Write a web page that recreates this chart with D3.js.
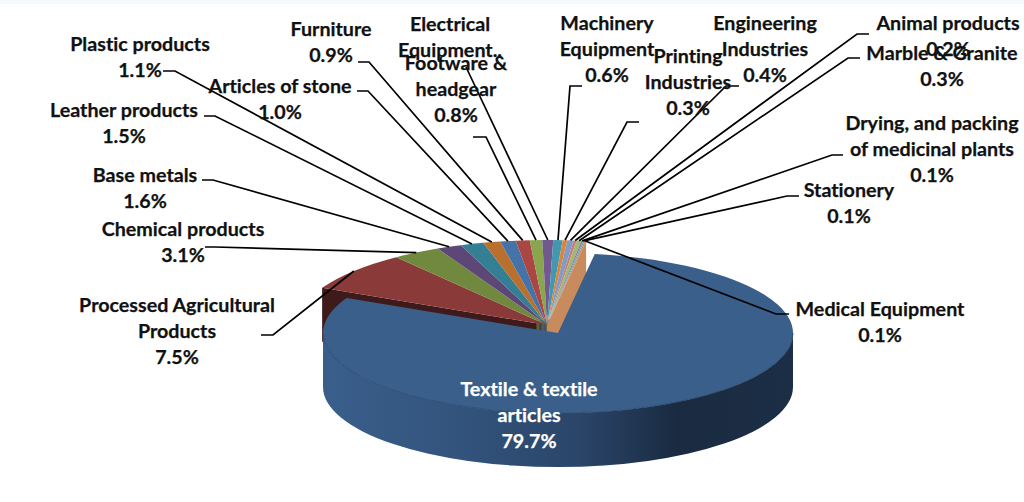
<!DOCTYPE html>
<html>
<head>
<meta charset="utf-8">
<script src="https://cdn.jsdelivr.net/npm/d3@7/dist/d3.min.js"></script>
<style>
  html, body { margin: 0; padding: 0; background: #fff; }
  text { font-family: Lato, "Open Sans", sans-serif; font-weight: 700; font-size: 19.7px; fill: #111; stroke: #111; stroke-width: 0.25px; font-variant-ligatures: none; }
</style>
</head>
<body>
<svg id="chart" width="1024" height="502"></svg>
<script>
// values, clockwise from the big slice
const categories = [
  ['Textile & textile', 'articles'],
  ['Processed Agricultural', 'Products'],
  ['Chemical products'],
  ['Base metals'],
  ['Leather products'],
  ['Plastic products'],
  ['Articles of stone'],
  ['Furniture'],
  ['Footware &', 'headgear'],
  ['Electrical', 'Equipment..'],
  ['Machinery', 'Equipment'],
  ['Printing', 'Industries'],
  ['Engineering', 'Industries'],
  ['Animal products'],
  ['Marble & Granite'],
  ['Drying, and packing', 'of medicinal plants'],
  ['Stationery'],
  ['Medical Equipment']
];
const shares = [79.7, 7.5, 3.1, 1.6, 1.5, 1.1, 1.0, 0.9, 0.8, 0.7, 0.6, 0.3, 0.4, 0.2, 0.3, 0.1, 0.1, 0.1];
const colors = ['#3a5f8b', '#8b3a3a', '#71893f', '#5c4776', '#357f95', '#b96f2e',
  '#4573a7', '#aa4643', '#89a54e', '#71588f', '#4198af', '#db843d',
  '#7d9cc7', '#c97e7c', '#a1b96f', '#8a75a8', '#5faac0', '#c78b5e'];

// label placement: centre x, first line y, then the elbow of the leader line
const labelX = [529, 177, 183, 145, 124, 140, 280, 331, 456, 450, 607, 688, 765, 948, 942, 932, 849, 880];
const labelY = [396, 312, 236, 182, 117, 51, 93, 36, 70, 31, 30, 63, 30, 30, 60, 130, 197, 316];
const leaders = [
  null,
  [[261, 335], [273, 335]],
  [[205, 247], [215, 247]],
  [[202, 180], [213, 180]],
  [[204, 116], [215, 116]],
  [[163, 71], [175, 71]],
  [[357, 91], [368, 91]],
  [[358, 62], [369, 62]],
  [[473, 137], [486, 137]],
  [[466, 67]],
  [[582, 86], [570, 86]],
  [[639, 122], [627, 122]],
  [[739, 86], [726, 86]],
  [[869, 34], [857, 34]],
  [[860, 58], [848, 58]],
  [[843, 155], [832, 155]],
  [[799, 196], [787, 196]],
  [[789, 314], [776, 314]]
];
const hideValue = [9];
const lineGap = 26;

const svg = d3.select('#chart');
const rad = d => d * Math.PI / 180;
const big = { cx: 558, cy: 333, rx: 235, ry: 80 };
const rest = { cx: 547, cy: 325, rx: 250, ry: 85 };
const depth = 54;
const R = 100;

const slices = d3.pie().sort(null).value(d => d)
  .startAngle(rad(9)).endAngle(rad(369))(shares);
const arc = d3.arc().innerRadius(0).outerRadius(R);
const onRim = (e, a) => [e.cx + e.rx * Math.sin(a), e.cy - e.ry * Math.cos(a)];
const squash = e => `translate(${e.cx},${e.cy}) scale(${e.rx / R},${e.ry / R})`;

const defs = svg.append('defs');
const grad = defs.append('linearGradient').attr('id', 'bigSide')
  .attr('gradientUnits', 'userSpaceOnUse')
  .attr('x1', big.cx - big.rx).attr('x2', big.cx + big.rx).attr('y1', 0).attr('y2', 0);
[[0, '#3a5f8b'], [0.3, '#32537c'], [0.55, '#2a4568'], [0.75, '#1a2b41'], [1, '#1c2e45']].forEach(s =>
  grad.append('stop').attr('offset', s[0]).attr('stop-color', s[1]));

svg.append('rect').attr('width', 1024).attr('height', 4).attr('fill', '#f5f9fc');

// side walls of the slices, seen through the gap
const gapWall = (a, fill, reach) => {
  const rim = onRim({ ...rest, rx: rest.rx * reach, ry: rest.ry * reach }, a);
  svg.append('path')
    .attr('d', d3.line()([[rest.cx, rest.cy], rim, [rim[0], rim[1] + depth], [rest.cx, rest.cy + depth]]))
    .attr('fill', fill);
};
gapWall(slices[0].endAngle, '#3f1a1a', 1);
// small stubs near the centre, one per slice
slices.slice(2).forEach((d, i) => gapWall(d.startAngle, d3.color(colors[i + 2]).darker(0.8), 0.07));
gapWall(slices[0].startAngle, '#c78b5e', 1);

svg.append('g').attr('transform', squash(rest))
  .selectAll('path').data(slices.slice(1)).join('path')
  .attr('d', arc)
  .attr('fill', (d, i) => colors[i + 1]);

// big slice: outer wall first, then its top
const left = onRim(big, rad(270));
const right = onRim(big, rad(90));
svg.append('path')
  .attr('d', `M${left} A${big.rx},${big.ry} 0 0 0 ${right} L${right[0]},${right[1] + depth}
    A${big.rx},${big.ry} 0 0 1 ${left[0]},${left[1] + depth} Z`)
  .attr('fill', 'url(#bigSide)');
svg.append('path').datum(slices[0])
  .attr('transform', squash(big))
  .attr('d', arc)
  .attr('fill', colors[0]);
svg.append('path')
  .attr('d', `M${left} A${big.rx},${big.ry} 0 0 0 ${right}`)
  .attr('fill', 'none').attr('stroke', '#2f4e73').attr('stroke-width', 1);

// leader lines
slices.forEach((d, i) => {
  if (!leaders[i]) return;
  const end = onRim(rest, (d.startAngle + d.endAngle) / 2);
  svg.append('path')
    .attr('d', d3.line()(leaders[i].concat([end])))
    .attr('fill', 'none').attr('stroke', '#000').attr('stroke-width', 1.7);
});

// labels
slices.forEach((d, i) => {
  const lines = categories[i].slice();
  if (!hideValue.includes(i)) lines.push(d.value.toFixed(1) + '%');
  const t = svg.append('text')
    .attr('text-anchor', 'middle')
    .attr('x', labelX[i]).attr('y', labelY[i]);
  if (i === 0) t.style('fill', '#fff').style('stroke', '#fff');
  lines.forEach((s, k) => t.append('tspan').attr('x', labelX[i]).attr('dy', k ? lineGap : 0).text(s));
});
</script>
</body>
</html>
